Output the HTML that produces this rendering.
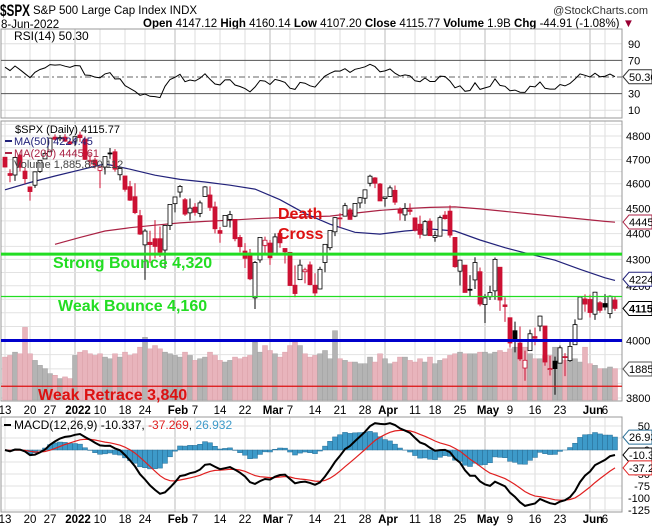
<!DOCTYPE html>
<html><head><meta charset="utf-8"><title>$SPX chart</title>
<style>
html,body{margin:0;padding:0;background:#fff;}
svg{display:block;font-family:"Liberation Sans",Arial,sans-serif;}
</style></head>
<body>
<svg id="chart" xmlns="http://www.w3.org/2000/svg" width="652" height="527" viewBox="0 0 652 527">
<rect x="0" y="0" width="652" height="527" fill="#fff"/>
<g>
<text x="0" y="16" font-size="17" font-weight="bold" textLength="30" lengthAdjust="spacingAndGlyphs">$SPX</text>
<text x="33" y="14" font-size="11.5">S&amp;P 500 Large Cap Index  INDX</text>
<text x="648" y="14" font-size="11" text-anchor="end" fill="#333">@StockCharts.com</text>
<text x="1" y="28" font-size="11.5">8-Jun-2022</text>
<text x="143" y="27" font-size="11.5"><tspan font-weight="bold">Open</tspan> 4147.12 <tspan font-weight="bold">High</tspan> 4160.14 <tspan font-weight="bold">Low</tspan> 4107.20 <tspan font-weight="bold">Close</tspan> 4115.77 <tspan font-weight="bold">Volume</tspan> 1.9B <tspan font-weight="bold">Chg</tspan> -44.91 (-1.08%) <tspan fill="#990033">▼</tspan></text>
</g>
<g id="grid"></g>
<g id="vol"></g>
<g id="lines"></g>
<g id="candles"></g>
<g id="annot"></g>
<g id="axes"></g>
</svg>
<script>
// ---- data ----
const opens=[4710,4642,4636,4719,4652,4587,4594,4651,4703,4733,4795,4788,4795,4775,4778,4804,4787,4693,4698,4655,4669,4728,4733,4637,4632,4588,4547,4471,4356,4366,4380,4380,4336,4432,4519,4566,4535,4482,4505,4480,4548,4554,4506,4412,4429,4456,4456,4385,4332,4324,4155,4298,4354,4363,4322,4401,4342,4327,4202,4223,4253,4279,4202,4188,4288,4345,4407,4462,4469,4494,4469,4522,4541,4602,4624,4599,4540,4548,4573,4495,4474,4494,4462,4437,4394,4449,4385,4390,4473,4489,4385,4255,4278,4187,4222,4253,4130,4159,4181,4270,4129,4082,4035,3991,3903,3964,4014,4052,4052,3900,3927,3920,3943,3929,3985,4077,4151,4149,4095,4137,4134,4097,4147];
const highs=[4710,4660,4712,4731,4666,4588,4651,4697,4740,4791,4807,4804,4808,4787,4796,4819,4798,4725,4708,4673,4714,4749,4744,4666,4632,4612,4602,4494,4418,4411,4453,4428,4432,4516,4546,4595,4542,4540,4521,4531,4590,4589,4527,4426,4472,4490,4456,4395,4363,4340,4294,4385,4388,4375,4401,4416,4342,4327,4277,4299,4268,4292,4247,4272,4358,4412,4465,4481,4522,4501,4520,4546,4575,4637,4627,4603,4548,4593,4593,4504,4521,4520,4464,4471,4453,4460,4410,4471,4489,4512,4386,4299,4278,4240,4308,4269,4169,4200,4307,4270,4157,4082,4068,4050,3964,4039,4046,4089,4052,3946,3943,3982,3955,3999,4076,4159,4168,4167,4177,4143,4169,4164,4160];
const lows=[4667,4606,4612,4651,4600,4531,4583,4645,4703,4733,4780,4778,4775,4765,4758,4775,4699,4671,4663,4582,4638,4703,4650,4614,4568,4530,4477,4395,4222,4287,4304,4309,4264,4414,4484,4544,4470,4452,4471,4465,4548,4490,4401,4364,4429,4424,4370,4327,4267,4221,4114,4287,4315,4279,4322,4345,4284,4199,4157,4223,4209,4202,4162,4187,4251,4335,4390,4424,4469,4455,4465,4501,4518,4589,4582,4530,4507,4546,4514,4452,4450,4474,4408,4381,4392,4392,4368,4390,4455,4384,4268,4201,4175,4162,4188,4124,4063,4147,4148,4107,4067,3975,3958,3928,3859,3964,3983,4033,3911,3877,3811,3920,3875,3925,3985,4077,4104,4083,4074,4100,4109,4080,4107];
const closes=[4669,4634,4709,4668,4621,4568,4649,4697,4726,4791,4786,4793,4778,4766,4797,4793,4701,4696,4677,4670,4713,4726,4660,4663,4577,4533,4483,4398,4410,4357,4350,4327,4432,4516,4546,4589,4477,4501,4484,4522,4587,4504,4419,4401,4472,4475,4380,4349,4304,4226,4288,4385,4374,4306,4387,4364,4329,4201,4171,4278,4260,4204,4173,4262,4358,4412,4463,4461,4511,4456,4520,4543,4575,4631,4602,4530,4546,4583,4525,4481,4500,4488,4413,4397,4447,4392,4392,4463,4459,4394,4272,4297,4175,4184,4288,4132,4155,4175,4300,4147,4123,3991,4001,3935,3930,4024,4008,4088,3924,3901,3901,3974,3941,3979,4057,4158,4132,4101,4176,4109,4121,4161,4116];
const volumes=[2.6,2.7,2.9,2.8,4.4,2.8,2.4,2.1,1.9,1.6,1.5,1.3,1.4,1.3,2.7,2.9,3.0,2.8,2.7,2.8,2.6,2.5,2.8,2.6,2.9,2.7,2.8,3.2,3.8,3.1,3.3,3.1,2.9,2.8,2.7,2.6,2.9,2.7,2.4,2.5,2.6,2.9,2.7,2.4,2.3,2.4,2.6,2.5,2.6,2.7,3.5,2.9,3.3,3.0,2.8,2.6,2.9,3.3,3.5,3.3,2.8,2.6,2.7,2.8,3.0,2.5,4.2,2.5,2.4,2.3,2.3,2.2,2.2,2.6,2.3,2.8,2.5,2.2,2.3,2.6,2.6,2.4,2.3,2.5,2.3,2.6,2.2,2.4,2.5,2.7,2.8,2.9,2.8,2.8,2.8,2.9,2.9,2.8,2.9,3.0,2.9,3.1,3.2,3.0,3.2,2.8,2.5,2.5,2.7,2.7,3.2,2.5,2.4,2.4,2.5,2.3,3.2,2.2,2.1,1.9,1.9,2.0,1.9];
// moving averages sampled every 5 bars (bar index list + value list)
const ma50Idx=[0,5,10,15,20,25,30,35,40,45,50,55,60,65,70,75,80,85,90,95,100,105,110,115,120,122];
const ma50Val=[4575,4605,4632,4657,4682,4660,4635,4618,4607,4594,4578,4535,4480,4437,4405,4398,4410,4418,4410,4375,4345,4320,4297,4262,4230,4220];
const ma200Idx=[10,15,20,25,30,35,40,45,50,55,60,65,70,75,80,85,90,95,100,105,110,115,120,122];
const ma200Val=[4358,4385,4410,4423,4433,4442,4448,4453,4459,4463,4466,4469,4481,4492,4499,4504,4506,4498,4488,4478,4468,4458,4448,4445];
const tickIdx=[0,5,9,14,19,24,28,34,38,43,48,53,57,62,67,72,76,82,86,91,96,101,106,111,117,120];
const tickLabels=["13","20","27","2022","10","18","24","Feb","7","14","22","Mar","7","14","21","28","Apr","11","18","25","May","9","16","23","Jun","6"];
const tickBold=[0,0,0,1,0,0,0,1,0,0,0,1,0,0,0,0,1,0,0,0,1,0,0,0,1,0];
const priceTicks=[4800,4700,4600,4500,4400,4300,4200,4000,3800];
const rsiTicks=[90,70,30,10];
const macdTicks=[50,0,-50,-75,-100,-125];
const levels=[4320,4160,4000,3840];

// ---- scales ----
const L=1,R=622;
const X=i=>5+5*i;
const Py=p=>136+1121.6*Math.log(4800/p);
const Vy=v=>400-16.5*v;
const Ry=r=>77-(r-50)*0.83;
const My=m=>450-0.48*m;
const NS="http://www.w3.org/2000/svg";
function mk(parent,tag,attrs,text){const e=document.createElementNS(NS,tag);for(const k in attrs)e.setAttribute(k,attrs[k]);if(text!==undefined)e.textContent=text;document.getElementById(parent).appendChild(e);return e;}

// ---- panels & grid ----
const panels=[[29,118],[121,401],[417,512]];
tickIdx.forEach((ti,k)=>{
  panels.forEach(([t,b])=>{
    const g=mk('grid','line',{x1:X(ti),x2:X(ti),y1:t,y2:b,stroke:tickBold[k]?'#bbb':'#ddd','stroke-width':1});
    
    
  });
});
for(let p=3800;p<=4850;p+=50){
  const g=mk('grid','line',{x1:L,x2:R,y1:Py(p),y2:Py(p),stroke:'#e2e2e2'});
  
  
}
[10,90].forEach(r=>{const g=mk('grid','line',{x1:L,x2:R,y1:Ry(r),y2:Ry(r),stroke:'#ddd'});});
[25,50,-25,-50,-75,-100,-125].forEach(m=>{const g=mk('grid','line',{x1:L,x2:R,y1:My(m),y2:My(m),stroke:'#e2e2e2'});});
panels.forEach(([t,b])=>{const g=mk('grid','rect',{x:L,y:t,width:R-L,height:b-t,fill:'none',stroke:'#999'});});

// ---- RSI ----
[70,30].forEach(r=>{const g=mk('lines','line',{x1:L,x2:R,y1:Ry(r),y2:Ry(r),stroke:'#555','stroke-width':1});});
{const g=mk('lines','line',{x1:L,x2:R,y1:Ry(50),y2:Ry(50),stroke:'#666','stroke-dasharray':'6,3,2,3'});}
const rsi=[];
{let ag=0,al=0;for(let i=1;i<15;i++){const d=closes[i]-closes[i-1];if(d>0)ag+=d;else al-=d;}ag/=14;al/=14;
 rsi.push(100-100/(1+ag/al));
 for(let i=1;i<closes.length;i++){const d=closes[i]-closes[i-1];ag=(ag*13+Math.max(d,0))/14;al=(al*13+Math.max(-d,0))/14;rsi.push(100-100/(1+ag/al));}}
{const g=mk('lines','polyline',{points:rsi.map((r,i)=>X(i)+','+Ry(r).toFixed(1)).join(' '),fill:'none',stroke:'#000','stroke-width':1});}

// ---- volume ----
volumes.forEach((v,i)=>{const up=i===0?closes[i]>=opens[i]:closes[i]>=closes[i-1];
 const b=mk('vol','rect',{x:X(i)-2.5,y:Vy(v),width:5,height:400-Vy(v),fill:up?'#b4b4b4':'#e8b4bc',stroke:up?'#a0a0a0':'#dca0aa','stroke-width':0.5});
 });

// ---- moving averages ----
function maLine(idx,val,color,name){const g=mk('lines','polyline',{points:idx.map((ii,k)=>X(ii)+','+Py(val[k]).toFixed(1)).join(' '),fill:'none',stroke:color,'stroke-width':1.2});}
maLine(ma200Idx,ma200Val,'#aa2244','ma200-line');
maLine(ma50Idx,ma50Val,'#22227a','ma50-line');

// ---- candles ----
closes.forEach((c,i)=>{const o=opens[i];const prev=i===0?o:closes[i-1];
 const col=c<prev?'#cc1133':'#000';const hollow=c>o;
 const w=mk('candles','line',{x1:X(i),x2:X(i),y1:Py(highs[i]),y2:Py(lows[i]),stroke:col,'stroke-width':1});
 
 const top=Py(Math.max(o,c)),bot=Py(Math.min(o,c));
 const b=mk('candles','rect',{x:X(i)-2,y:top,width:4,height:Math.max(bot-top,1),fill:hollow?'#fff':col,stroke:col,'stroke-width':0.8});
 });

// ---- annotation levels ----
const lvlStyle=[['#22dd22',3],['#22dd22',1.3],['#0000cc',3],['#dd1111',1.2]];
levels.forEach((lv,k)=>{const g=mk('annot','line',{x1:L,x2:R,y1:Py(lv),y2:Py(lv),stroke:lvlStyle[k][0],'stroke-width':lvlStyle[k][1]});});

// ---- MACD ----
const macd=[],signal=[],hist=[];
{let e12=closes[0],e26=closes[0],s=0;const a12=2/13,a26=2/27,a9=2/10;
 closes.forEach((c,i)=>{e12=e12+a12*(c-e12);e26=e26+a26*(c-e26);const m=e12-e26;s=i===0?m:s+a9*(m-s);macd.push(m);signal.push(s);hist.push(m-s);});}
hist.forEach((h,i)=>{const y0=My(0),y1=My(h);const b=mk('lines','rect',{x:X(i)-2.5,y:Math.min(y0,y1),width:5,height:Math.abs(y1-y0),fill:'#3d9ac9',stroke:'#2a6f96','stroke-width':0.5});});
{const g=mk('lines','polyline',{points:signal.map((m,i)=>X(i)+','+My(m).toFixed(1)).join(' '),fill:'none',stroke:'#e02020','stroke-width':1.2});}
{const g=mk('lines','polyline',{points:macd.map((m,i)=>X(i)+','+My(m).toFixed(1)).join(' '),fill:'none',stroke:'#000','stroke-width':2});}

// ---- axes ----
[414,523].forEach(y=>{tickIdx.forEach((ti,k)=>{const t=mk('axes','text',{x:X(ti)+(tickBold[k]?3:0),y:y,'font-size':11.5,'text-anchor':'middle','font-weight':tickBold[k]?'bold':'normal'},tickLabels[k]);});});
priceTicks.forEach(p=>{const t=mk('axes','text',{x:626,y:Py(p)+4,'font-size':11},String(p));});
rsiTicks.forEach(r=>{const t=mk('axes','text',{x:628,y:Ry(r)+4,'font-size':11},String(r));});
macdTicks.forEach(m=>{const t=mk('axes','text',{x:650,y:My(m)+4,'font-size':11,'text-anchor':'end'},String(m));});
function tag(y,txt,stroke,name,bold){const p=mk('axes','polygon',{points:`623,${y} 629,${y-7} 652,${y-7} 652,${y+7} 629,${y+7}`,fill:'#fff',stroke:stroke,'stroke-width':1});
 const t=mk('axes','text',{x:629,y:y+4,'font-size':11,'font-weight':bold?'bold':'normal'},txt);}
tag(Ry(50.3),'50.30','#333','rsi-value-tag');
tag(Py(4445.61),'4445','#aa2244','ma200-value-tag');
tag(Py(4224.45),'4224','#22227a','ma50-value-tag');
tag(Py(4115.77),'4115','#000','price-value-tag',true);
tag(369,'1885','#555','volume-value-tag');
tag(My(26.93),'26.93','#2a6f96','histogram-value-tag');
tag(My(-10.34),'-10.3','#000','macd-value-tag');
tag(My(-37.27),'-37.2','#e02020','signal-value-tag');
</script>
<script>
// text overlays (annotation labels & legends)
const svg=document.getElementById('chart');
svg.insertAdjacentHTML('beforeend',`
<g font-size="16" font-weight="bold">
<text x="53" y="268" fill="#22dd22">Strong Bounce 4,320</text>
<text x="58" y="311" fill="#22dd22">Weak Bounce 4,160</text>
<text x="38" y="400" fill="#dd1111">Weak Retrace 3,840</text>
<text x="278" y="219" fill="#dd1111">Death</text>
<text x="278" y="239" fill="#dd1111">Cross</text>
</g>
<g font-size="11">
<text x="14" y="40" font-size="12">RSI(14) 50.30</text>
<text x="15" y="133">$SPX (Daily) 4115.77</text>
<line x1="5" x2="12" y1="141" y2="141" stroke="#22227a" stroke-width="2"/>
<text x="14" y="145" fill="#22227a">MA(50) 4224.45</text>
<line x1="5" x2="12" y1="153" y2="153" stroke="#aa2244" stroke-width="2"/>
<text x="14" y="157" fill="#aa2244">MA(200) 4445.61</text>
<text x="14" y="168" fill="#444">Volume 1,885,850,112</text>
<line x1="4" x2="11" y1="425" y2="425" stroke="#000" stroke-width="2"/>
<text x="14" y="429" font-size="12">MACD(12,26,9) -10.337, <tspan fill="#e02020">-37.269</tspan>, <tspan fill="#3d9ac9">26.932</tspan></text>
</g>`);
</script>
</body></html>
